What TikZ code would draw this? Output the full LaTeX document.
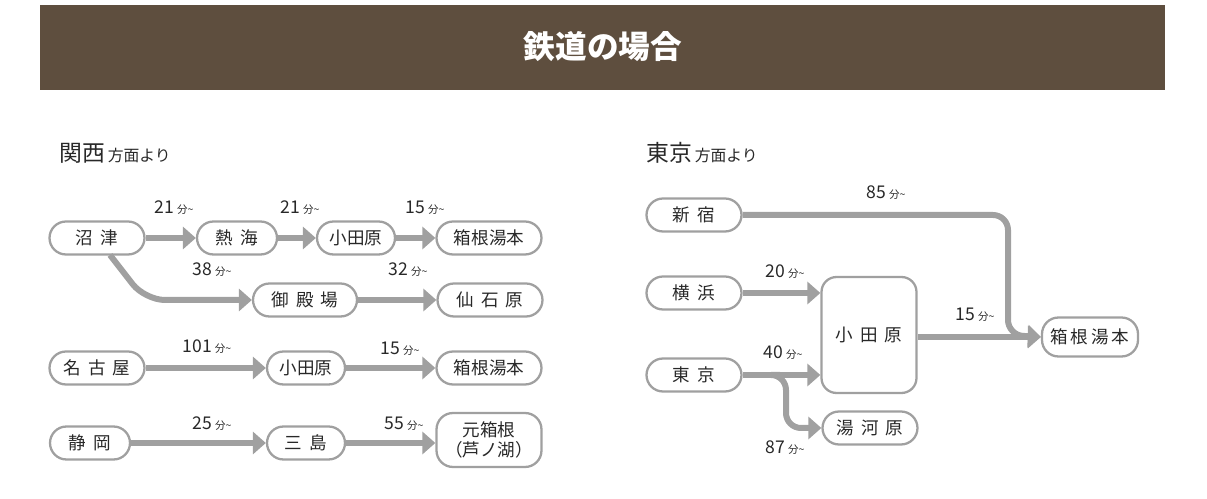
\documentclass[tikz,border=0pt]{standalone}
\usepackage{fontspec}
\setmainfont{Noto Sans CJK JP}
\usetikzlibrary{arrows.meta}
\definecolor{route}{RGB}{160,160,160}
\definecolor{banner}{RGB}{94,78,62}
\definecolor{ink}{RGB}{40,40,40}
\newcommand{\fun}[1]{{\fontsize{10}{12}\selectfont #1}\,{\fontsize{6}{7}\selectfont 分\string~}}
\newcommand{\gap}{\hspace{0.4em}}
\tikzstyle{station}=[draw=route, line width=1.3pt, rounded corners=0.33cm, minimum height=0.66cm, minimum width=1.9cm, inner sep=1pt, text=ink, font=\fontsize{10}{12}\selectfont, align=center]
\tikzstyle{route}=[draw=route, line width=0.12cm, -{Triangle[length=0.26cm,width=0.44cm]}]
\tikzstyle{time}=[text=ink]
\begin{document}
\begin{tikzpicture}[x=0.02cm,y=-0.02cm]
  \useasboundingbox (0,0) rectangle (1207,499);
  \fill[banner] (40,5) rectangle (1165,90);
  \draw (603,47) node[text=white,font=\bfseries\fontsize{18}{20}\selectfont] (title) {鉄道の場合};

  %% Kansai
  \draw (53,153) node[anchor=west,text=ink] (kansai) {{\fontsize{13}{15}\selectfont 関西}\,{\fontsize{9}{11}\selectfont 方面より}};
  \draw (97,238) node[station] (numazu) {沼\gap 津};
  \draw (237,238) node[station,minimum width=1.6cm] (atami) {熱\gap 海};
  \draw (356,238) node[station,minimum width=1.56cm] (odawaraA) {小田原};
  \draw (489,238) node[station,minimum width=2.1cm] (yumotoA) {箱根湯本};
  \draw (305,300) node[station,minimum width=2.08cm] (gotemba) {御\gap 殿\gap 場};
  \draw (490,300) node[station,minimum width=2.1cm] (sengoku) {仙\gap 石\gap 原};
  \draw (97,368) node[station] (nagoya) {名\gap 古\gap 屋};
  \draw (306,368) node[station,minimum width=1.56cm] (odawaraB) {小田原};
  \draw (489,368) node[station,minimum width=2.1cm] (yumotoB) {箱根湯本};
  \draw (90,443) node[station,minimum width=1.6cm] (shizuoka) {静\gap 岡};
  \draw (306,443) node[station,minimum width=1.56cm] (mishima) {三\gap 島};
  \draw (489,440) node[station,minimum width=2.1cm,minimum height=1.08cm,inner sep=0pt,font=\fontsize{10}{11}\selectfont] (motohakone) {元箱根\\（芦ノ湖）};

  \draw[route] (numazu) -- (atami);
  \draw[route] (atami) -- (odawaraA);
  \draw[route] (odawaraA) -- (yumotoA);
  \draw[route,rounded corners=0.4cm] (110,255) -- (145,300) -- (gotemba.west);
  \draw[route] (gotemba) -- (sengoku);
  \draw[route] (nagoya) -- (odawaraB);
  \draw[route] (odawaraB) -- (yumotoB);
  \draw[route] (shizuoka) -- (mishima);
  \draw[route] (mishima) -- (motohakone.west |- mishima);

  \draw (174,208) node[time] (t1) {\fun{21}};
  \draw (300,208) node[time] (t2) {\fun{21}};
  \draw (425,208) node[time] (t3) {\fun{15}};
  \draw (212,270) node[time] (t4) {\fun{38}};
  \draw (408,270) node[time] (t5) {\fun{32}};
  \draw (207,347) node[time] (t6) {\fun{101}};
  \draw (400,349) node[time] (t7) {\fun{15}};
  \draw (212,424) node[time] (t8) {\fun{25}};
  \draw (404,424) node[time] (t9) {\fun{55}};

  %% Tokyo
  \draw (640,153) node[anchor=west,text=ink] (tokyo) {{\fontsize{13}{15}\selectfont 東京}\,{\fontsize{9}{11}\selectfont 方面より}};
  \draw (694,215) node[station] (shinjuku) {新\gap 宿};
  \draw (694,293) node[station] (yokohama) {横\gap 浜};
  \draw (694,375) node[station] (tokyost) {東\gap 京};
  \draw (869,335) node[station,minimum width=1.9cm,minimum height=2.32cm,rounded corners=0.3cm] (odawaraC) {小\gap 田\gap 原};
  \draw (1090,337) node[station,minimum width=1.92cm,minimum height=0.78cm] (yumotoC) {箱\,根\,湯\,本};
  \draw (870,428) node[station] (yugawara) {湯\gap 河\gap 原};

  \draw[route,rounded corners=0.3cm] (shinjuku) -- (1008,215) -- (1008,335) -- (yumotoC.west);
  \draw[route] (odawaraC.east |- yumotoC) -- (yumotoC);
  \draw[route] (yokohama) -- (odawaraC.west |- yokohama);
  \draw[route] (tokyost) -- (odawaraC.west |- tokyost);
  \draw[route,rounded corners=0.3cm] (780,375) -- (786,375) -- (786,428) -- (yugawara.west);

  \draw (886,193) node[time] (t10) {\fun{85}};
  \draw (785,272) node[time] (t11) {\fun{20}};
  \draw (975,315) node[time] (t12) {\fun{15}};
  \draw (783,353) node[time] (t13) {\fun{40}};
  \draw (785,448) node[time] (t14) {\fun{87}};
\end{tikzpicture}
\end{document}
